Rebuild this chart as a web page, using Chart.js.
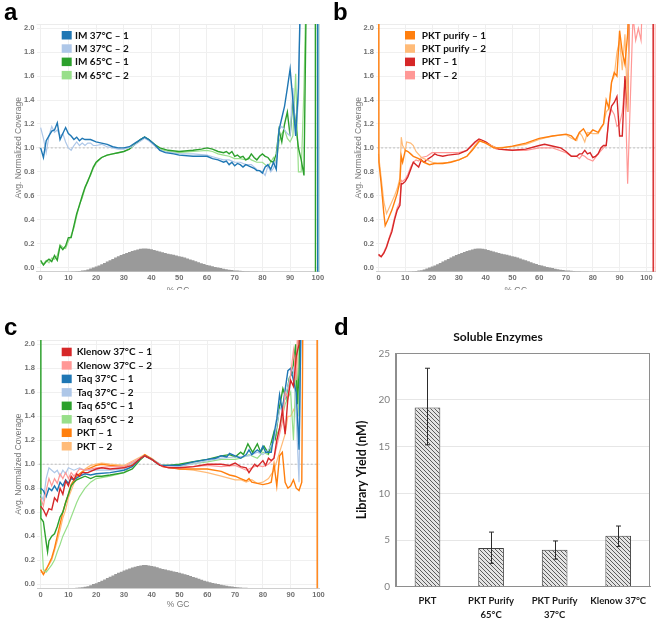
<!DOCTYPE html>
<html><head><meta charset="utf-8">
<script src="https://cdn.jsdelivr.net/npm/chart.js@4.4.1/dist/chart.umd.min.js"></script>
<style>
html,body{margin:0;padding:0;background:#fff;}
body{width:660px;height:619px;position:relative;overflow:hidden;}
.panel{position:absolute;overflow:hidden;}
.letter{position:absolute;font-family:'Liberation Sans',Arial,sans-serif;font-weight:bold;font-size:24px;line-height:24px;color:#000;}
</style></head><body>
<div class="panel" style="left:0;top:0;width:330px;height:290px"><canvas id="ca" width="330" height="300"></canvas></div>
<div class="panel" style="left:330px;top:0;width:330px;height:290px"><canvas id="cb" width="330" height="300"></canvas></div>
<div class="panel" style="left:0;top:300px;width:330px;height:319px"><canvas id="cc" width="330" height="319"></canvas></div>
<div class="panel" style="left:330px;top:300px;width:330px;height:319px"><canvas id="cd" width="330" height="319"></canvas></div>
<div class="letter" style="left:4px;top:0px">a</div>
<div class="letter" style="left:333px;top:0px">b</div>
<div class="letter" style="left:4px;top:315px">c</div>
<div class="letter" style="left:334px;top:315px">d</div>
<script>
// ---------- DATA ----------
const gcTicks = [0,10,20,30,40,50,60,70,80,90,100];
const coverageTicks = [0,0.2,0.4,0.6,0.8,1.0,1.2,1.4,1.6,1.8,2.0];
const gcHist = [[11,-0.034],[12,-0.033],[13,-0.031],[14,-0.029],[15,-0.026],[16,-0.022],[17,-0.017],[18,-0.009],[19,0.0],[20,0.008],[21,0.017],[22,0.027],[23,0.038],[24,0.05],[25,0.061],[26,0.072],[27,0.084],[28,0.095],[29,0.104],[30,0.113],[31,0.122],[32,0.13],[33,0.138],[34,0.145],[35,0.151],[36,0.156],[37,0.16],[38,0.159],[39,0.156],[40,0.152],[41,0.146],[42,0.14],[43,0.133],[44,0.127],[45,0.121],[46,0.116],[47,0.111],[48,0.106],[49,0.1],[50,0.095],[51,0.089],[52,0.083],[53,0.076],[54,0.068],[55,0.06],[56,0.052],[57,0.044],[58,0.036],[59,0.029],[60,0.022],[61,0.016],[62,0.01],[63,0.005],[64,0.0],[65,-0.005],[66,-0.01],[67,-0.014],[68,-0.018],[69,-0.021],[70,-0.024],[71,-0.026],[72,-0.028],[73,-0.03],[74,-0.031],[75,-0.032],[76,-0.033],[77,-0.034],[78,-0.034],[79,-0.035],[80,-0.035]];

// panel a
const IM37_1 = [[0,1.0],[1,0.92],[2,1.06],[3,1.1],[4,1.14],[5,1.15],[6,1.21],[7,1.07],[8,1.12],[9,1.17],[10,1.12],[11,1.1],[12,1.07],[13,1.09],[14,1.06],[15,1.08],[16,1.07],[18,1.07],[20,1.05],[22,1.04],[24,1.03],[26,1.01],[28,1.0],[30,1.0],[32,1.01],[34,1.04],[36,1.07],[37.5,1.09],[39,1.07],[41,1.03],[43,0.98],[45,0.96],[48,0.95],[50,0.94],[55,0.93],[60,0.93],[62,0.91],[64,0.9],[66,0.88],[67,0.89],[68,0.86],[69,0.88],[70,0.85],[71,0.87],[72,0.86],[73,0.84],[74,0.86],[75,0.85],[76,0.84],[77,0.83],[78,0.81],[79,0.81],[80,0.79],[81,0.84],[82,0.86],[83,0.82],[84,0.88],[85,0.82],[86,1.15],[87,1.25],[88,1.35],[89,1.5],[90,1.66],[91,1.4],[92,1.1],[93,1.5],[94,2.6],[99.9,2.6],[99.95,-0.2]];
const IM37_2 = [[0,1.17],[1,1.08],[2,0.96],[3,1.1],[4,1.18],[5,1.13],[6,1.15],[7,1.1],[8,1.12],[9,1.05],[10,1.0],[11,0.98],[12,1.02],[13,1.05],[14,1.02],[15,1.04],[16,1.02],[17,1.04],[18,1.04],[19,1.02],[20,1.02],[22,1.03],[24,1.01],[26,1.0],[28,0.99],[30,0.99],[33,1.01],[35,1.04],[37.5,1.08],[39,1.06],[41,1.02],[44,0.97],[47,0.96],[50,0.95],[55,0.95],[60,0.94],[63,0.92],[66,0.9],[68,0.9],[70,0.88],[72,0.88],[74,0.86],[76,0.86],[78,0.82],[80,0.8],[81,0.77],[82,0.85],[83,0.8],[84,0.83],[85,0.9],[86,1.15],[87,1.18],[88,1.15],[89,1.12],[90,1.1],[91,1.5],[92,1.1],[93,1.4],[94,2.6],[100.4,2.6],[100.45,-0.2]];
const IM65_1 = [[0,0.06],[1,0.02],[2,0.05],[3,0.07],[4,0.05],[5,0.1],[6,0.06],[7,0.18],[8,0.15],[9,0.18],[10,0.25],[11,0.25],[12,0.35],[13,0.45],[14,0.52],[15,0.6],[16,0.67],[17,0.72],[18,0.78],[19,0.84],[20,0.88],[21,0.9],[22,0.92],[24,0.94],[26,0.95],[28,0.96],[30,0.97],[32,0.99],[34,1.03],[36,1.07],[37.5,1.09],[39,1.07],[41,1.03],[43,1.0],[46,0.98],[50,0.97],[55,0.98],[58,0.99],[60,1.0],[62,0.99],[64,0.97],[66,0.96],[67,0.97],[68,0.95],[69,0.97],[70,0.93],[71,0.94],[72,0.92],[73,0.93],[74,0.9],[75,0.91],[76,0.95],[77,0.92],[78,0.9],[79,0.93],[80,0.95],[81,0.93],[82,0.92],[83,0.89],[84,0.88],[85,0.95],[86,1.15],[87,1.05],[88,1.2],[89,1.3],[90,1.1],[91,1.4],[92,1.2],[93,1.0],[94,0.9],[95,0.77],[96,2.6],[99.1,2.6],[99.15,-0.2]];
const IM65_2 = [[0,0.04],[1,0.03],[2,0.06],[3,0.04],[4,0.08],[5,0.07],[6,0.1],[7,0.19],[8,0.17],[9,0.16],[10,0.22],[11,0.27],[12,0.33],[13,0.43],[14,0.53],[15,0.58],[16,0.66],[17,0.73],[18,0.77],[19,0.83],[20,0.87],[21,0.9],[22,0.92],[24,0.94],[26,0.95],[28,0.96],[30,0.97],[32,0.99],[34,1.03],[36,1.07],[37.5,1.09],[39,1.07],[41,1.03],[43,0.99],[46,0.97],[50,0.96],[55,0.97],[60,0.98],[62,0.97],[64,0.95],[66,0.94],[68,0.93],[70,0.91],[72,0.91],[74,0.9],[75,0.92],[76,0.9],[78,0.88],[80,0.88],[81,0.86],[82,0.84],[83,0.88],[84,0.92],[85,0.88],[86,1.05],[87,1.12],[88,1.15],[89,1.08],[90,1.05],[91,1.1],[92,1.62],[93,0.8],[94,0.8],[95,1.5],[96,2.6],[100.45,2.6],[100.5,-0.2]];

// panel b
const PKTP_1 = [[0,5],[0.15,0.88],[1,0.7],[2,0.45],[2.5,0.35],[3.5,0.4],[5,0.48],[6,0.55],[7,0.62],[8,0.72],[8.5,0.93],[9,0.88],[10,0.98],[11,0.97],[12,0.95],[13,0.93],[15,0.91],[17,0.88],[19,0.86],[21,0.87],[24,0.87],[27,0.88],[30,0.9],[33,0.93],[35,0.98],[37.7,1.06],[40,1.04],[43,1.0],[46,1.0],[50,1.015],[55,1.04],[60,1.08],[65,1.1],[70,1.115],[72,1.1],[73.5,1.065],[75,1.13],[76.5,1.16],[78,1.1],[80,1.15],[82,1.13],[83,1.17],[84,1.2],[85,1.4],[86,1.33],[87,1.55],[88,1.63],[89,1.6],[90,1.98],[91,1.8],[92,1.7],[93,1.95],[94,2.6]];
const PKTP_2 = [[0,0.95],[1,0.75],[2,0.55],[3,0.45],[4,0.5],[5,0.55],[6,0.6],[7,0.66],[8,0.75],[8.5,1.09],[9,1.02],[10,0.98],[10.5,1.05],[12,1.04],[13,1.02],[14,0.97],[16,0.92],[18,0.9],[20,0.88],[22,0.87],[26,0.88],[30,0.9],[33,0.93],[36,1.02],[38,1.06],[41,1.03],[44,1.0],[50,1.01],[55,1.03],[60,1.07],[65,1.1],[70,1.11],[72,1.08],[74,1.06],[75,1.13],[76,1.1],[77,1.05],[78,1.13],[80,1.12],[82,1.12],[84,1.2],[85,1.3],[86,1.33],[87,1.55],[88,1.6],[89,1.8],[90,1.9],[91,1.65],[92,1.95],[93,1.3],[94,2.6]];
const PKT_1 = [[0,0.11],[1,0.09],[2,0.12],[3,0.17],[4,0.24],[5,0.3],[6,0.4],[7,0.48],[8,0.52],[8.5,0.7],[9,0.7],[10,0.72],[11,0.76],[12,0.82],[13,0.88],[14,0.86],[15,0.84],[16,0.9],[17,0.88],[18,0.9],[20,0.93],[21,0.95],[22,0.94],[24,0.93],[26,0.94],[30,0.95],[33,0.98],[36,1.05],[37.5,1.075],[40,1.05],[42,1.02],[45,0.99],[50,0.98],[55,0.99],[60,1.02],[62,1.03],[64,1.02],[66,1.01],[68,1.0],[70,0.97],[72,0.93],[74,0.93],[75,0.95],[76,0.95],[77,0.98],[78,0.95],[79,0.96],[80,0.92],[81,0.93],[82,0.95],[83,1.0],[84,1.02],[85,1.02],[86,1.25],[87,1.35],[88,1.38],[89,1.43],[90,1.1],[91,1.1],[92,1.6],[93,1.3],[94,2.6],[102.5,2.6],[102.55,-0.2]];
const PKT_2 = [[0,0.1],[1,0.09],[2,0.13],[3,0.18],[4,0.25],[5,0.32],[6,0.42],[7,0.5],[8,0.55],[8.5,0.73],[9,0.72],[10,0.74],[11,0.78],[12,0.84],[13,0.88],[14,0.9],[15,0.89],[16,0.92],[18,0.93],[20,0.96],[22,0.96],[25,0.96],[30,0.96],[33,0.98],[36,1.04],[38,1.07],[40,1.05],[44,0.99],[50,0.98],[55,0.98],[60,1.0],[65,1.0],[70,0.96],[72,0.93],[74,0.93],[75,0.91],[76,0.94],[77,0.93],[78,0.91],[80,0.89],[82,0.95],[84,1.0],[85,1.02],[86,1.25],[87,1.32],[88,1.28],[89,1.18],[90,1.2],[91,1.3],[92,1.55],[93,0.7],[94,1.4],[95,2.1],[96,1.9],[97,2.0],[98,1.9],[99,2.6],[103.3,2.6],[103.35,-0.2]];

// panel c
const KL_1 = [[0,0.65],[1,0.62],[2,0.57],[3,0.63],[4,0.62],[5,0.72],[6,0.69],[7,0.8],[8,0.75],[9,0.86],[10,0.82],[11,0.9],[12,0.87],[13,0.92],[14,0.9],[15,0.93],[17,0.93],[20,0.96],[22,0.97],[25,0.96],[30,0.97],[33,0.99],[36,1.05],[37.5,1.07],[40,1.04],[43,0.99],[46,0.97],[50,0.97],[55,0.98],[60,1.0],[65,1.0],[68,0.99],[70,1.01],[72,0.98],[74,0.97],[75,0.93],[77,1.0],[78,0.98],[80,1.03],[81,0.99],[82,1.05],[83,1.03],[84,1.05],[85,1.2],[86,1.3],[87,1.45],[88,1.25],[89,1.55],[90,1.7],[91,1.65],[92,1.9],[93,2.0],[94,2.6]];
const KL_2 = [[0,0.72],[1,0.65],[2,0.78],[3,0.88],[4,0.82],[5,0.88],[6,0.84],[7,0.92],[8,0.88],[9,0.93],[10,0.88],[11,0.93],[12,0.9],[14,0.96],[16,0.95],[20,0.97],[25,0.98],[30,0.98],[35,1.04],[37.5,1.07],[40,1.04],[44,0.98],[50,0.97],[60,0.99],[65,0.98],[70,0.99],[72,0.97],[74,0.95],[76,0.97],[78,0.99],[80,0.98],[82,1.0],[84,1.05],[85,1.15],[87,1.35],[88,1.6],[89,1.55],[90,1.75],[91,1.95],[92,1.7],[93,2.6]];
const TQ37_1 = [[0,0.8],[1,0.78],[2,0.73],[3,0.8],[4,0.78],[5,0.82],[6,0.78],[7,0.85],[8,0.82],[9,0.87],[10,0.84],[11,0.88],[12,0.87],[14,0.9],[16,0.92],[18,0.91],[20,0.92],[25,0.93],[30,0.95],[33,0.98],[36,1.05],[37.5,1.07],[40,1.04],[43,0.99],[46,0.99],[50,0.99],[55,1.02],[60,1.04],[63,1.05],[65,1.07],[67,1.06],[68,1.09],[70,1.07],[72,1.05],[74,1.08],[75,1.12],[76,1.08],[78,1.12],[79,1.1],[80,1.15],[81,1.1],[83,1.1],[84,1.25],[85,1.38],[86,1.58],[87,1.45],[88,1.62],[89,1.78],[90,1.8],[91,1.7],[92,1.6],[93,1.12],[94,2.6]];
const TQ37_2 = [[0,0.75],[1,0.7],[2,0.88],[3,0.97],[4,0.95],[5,0.93],[6,0.95],[7,0.9],[8,0.95],[9,0.92],[10,0.97],[12,0.95],[14,0.97],[16,0.95],[20,0.95],[25,0.95],[30,0.96],[35,1.04],[37.5,1.07],[40,1.04],[44,0.99],[50,0.98],[60,1.03],[65,1.05],[70,1.06],[75,1.07],[78,1.1],[80,1.08],[82,1.12],[84,1.2],[86,1.45],[88,1.55],[90,1.75],[91,1.8],[92,1.4],[93,0.85],[94,2.6]];
const TQ65_1 = [[0,6],[0.1,0.55],[1,0.52],[2,0.35],[2.5,0.27],[3,0.36],[4,0.4],[5,0.42],[6,0.48],[7,0.56],[8,0.6],[9,0.68],[10,0.75],[11,0.82],[12,0.85],[13,0.87],[14,0.88],[16,0.9],[18,0.88],[20,0.9],[22,0.9],[25,0.91],[30,0.93],[33,0.96],[36,1.04],[37.5,1.07],[40,1.04],[43,0.99],[46,0.99],[50,1.0],[55,1.02],[60,1.04],[65,1.07],[68,1.08],[70,1.06],[72,1.1],[73,1.08],[74.6,1.17],[76.3,1.1],[78,1.17],[79.2,1.1],[80.4,1.15],[82,1.09],[84,1.27],[84.5,1.22],[86,1.48],[87.2,1.63],[88.3,1.55],[89.5,1.72],[90.6,1.76],[91.8,2.0],[92.4,1.5],[93,1.75],[93.5,2.6]];
const TQ65_2 = [[0,0.55],[1,0.12],[2,0.1],[3,0.13],[4,0.16],[5,0.2],[6,0.27],[7,0.33],[8,0.4],[9,0.45],[10,0.5],[11,0.56],[12,0.62],[13,0.68],[14,0.73],[16,0.8],[18,0.85],[20,0.88],[25,0.9],[30,0.93],[35,1.03],[37.5,1.07],[40,1.04],[44,0.99],[50,0.99],[60,1.02],[65,1.04],[70,1.04],[72,1.05],[75,1.08],[78,1.05],[80,1.1],[82,1.08],[84,1.2],[86,1.3],[88,1.5],[90,1.6],[91,1.2],[92,1.85],[93,1.4],[94,2.6]];
const PKTc_1 = [[0,0.12],[1,0.08],[2,0.12],[3,0.17],[4,0.22],[5,0.3],[6,0.4],[7,0.5],[8,0.6],[9,0.68],[10,0.75],[11,0.83],[12,0.87],[13,0.9],[14,0.92],[16,0.95],[18,0.97],[20,0.99],[22,1.0],[25,0.99],[30,0.98],[33,1.0],[36,1.05],[37.5,1.08],[40,1.04],[44,0.98],[50,0.96],[55,0.96],[60,0.96],[65,0.94],[68,0.91],[70,0.9],[72,0.88],[74,0.86],[75,0.88],[76,0.85],[78,0.84],[80,0.83],[82,0.84],[83,0.85],[84,1.0],[85,0.82],[86,1.07],[87,1.1],[88,0.85],[89,0.8],[90,0.82],[91,0.87],[92,0.8],[93,0.78],[94,0.85],[94.5,2.6],[99.5,2.6],[99.55,-0.2]];
const PKTc_2 = [[0,0.1],[1,0.1],[2,0.13],[3,0.16],[4,0.2],[5,0.28],[6,0.36],[7,0.45],[8,0.55],[9,0.62],[10,0.72],[11,0.78],[12,0.84],[13,0.88],[14,0.92],[16,0.96],[18,0.99],[20,1.0],[22,1.01],[25,1.0],[30,0.99],[35,1.05],[37.5,1.08],[40,1.05],[44,0.98],[50,0.96],[55,0.95],[60,0.93],[65,0.9],[70,0.87],[72,0.87],[74,0.85],[76,0.87],[78,0.84],[80,0.85],[82,0.88],[84,0.95],[86,1.1],[88,1.25],[89,1.4],[90,1.4],[92,1.5],[93,2.6]];

// panel d
const yieldLabels = [['PKT'], ['PKT Purify','65°C'], ['PKT Purify','37°C'], ['Klenow 37°C']];
const yieldValues = [19.2, 4.15, 3.95, 5.45];
const yieldLow = [15.2, 2.5, 2.95, 4.3];
const yieldHigh = [23.4, 5.85, 4.9, 6.5];
const yieldTicks = [0,5,10,15,20,25];

// ---------- HELPERS ----------
const C = {blue:'#1f77b4', lblue:'#aec7e8', green:'#2ca02c', lgreen:'#98df8a', red:'#d62728', pink:'#ff9896', orange:'#ff7f0e', lorange:'#ffbb78'};
const xy = arr => arr.map(p => ({x:p[0], y:p[1]}));
const tickFont = {family:'Liberation Sans', size:7.5, weight:'bold'};
const axisTitleFont = {family:'Liberation Sans', size:8.5};

const inlineLegend = {
  id:'inlineLegend',
  afterDraw(chart, args, o){
    const {ctx, chartArea} = chart;
    const items = chart.data.datasets.filter(d => d.inLegend);
    ctx.save();
    ctx.font = 'bold 10px Lato';
    ctx.textBaseline = 'middle';
    ctx.textAlign = 'left';
    items.forEach((d,i) => {
      const cy = chartArea.top + o.dy + i*o.step;
      const bx = chartArea.left + o.dx;
      ctx.fillStyle = d.borderColor;
      ctx.fillRect(bx, cy-4, 10, 8.5);
      ctx.fillStyle = '#111';
      ctx.fillText(d.label, bx + o.tx, cy+0.5);
    });
    ctx.restore();
  }
};
const topLine = {
  id:'topLine',
  beforeDatasetsDraw(chart){
    const {ctx, chartArea} = chart;
    ctx.save(); ctx.strokeStyle='#ececec'; ctx.lineWidth=1;
    ctx.beginPath(); ctx.moveTo(chartArea.left, chartArea.top+0.5); ctx.lineTo(chartArea.right, chartArea.top+0.5); ctx.stroke();
    ctx.restore();
  }
};

function coverageChart(id, series, cfg){
  const datasets = series.map(s => ({
    label:s.label, data:xy(s.data), borderColor:s.color, backgroundColor:s.color,
    borderWidth:s.light?1.2:1.4, pointRadius:0, tension:0, fill:false, inLegend:true
  }));
  datasets.push({label:'ref', data:[{x:-5,y:1},{x:110,y:1}], borderColor:'#bdbdbd', borderDash:[2,2], borderWidth:1, pointRadius:0, fill:false});
  datasets.push({label:'GC distribution', data:xy(gcHist), stepped:'middle', fill:{value:-0.035}, backgroundColor:'#9a9a9a', borderColor:'rgba(0,0,0,0)', borderWidth:0, pointRadius:0});
  return new Chart(document.getElementById(id), {
    type:'line',
    data:{datasets},
    plugins:[inlineLegend, topLine],
    options:{
      responsive:false, animation:false, devicePixelRatio:1,
      layout:{padding:{left:0, top:cfg.top, right:cfg.right, bottom:0}},
      plugins:{legend:{display:false}, tooltip:{enabled:false}, inlineLegend:cfg.legend},
      scales:{
        x:{type:'linear', min:cfg.xmin, max:cfg.xmax,
           afterBuildTicks:s => { s.ticks = gcTicks.map(v => ({value:v})); },
           ticks:{font:tickFont, color:'#707070', padding:2, maxRotation:0, autoSkip:false},
           grid:{color:'#efefef', drawTicks:false},
           border:{color:'#cfcfcf'},
           title:{display:true, text:'% GC', font:axisTitleFont, color:'#777', padding:{top:0, bottom:cfg.xtPad}},
           afterFit:s => { s.height = cfg.xh; }},
        y:{type:'linear', min:-0.035, max:2.036,
           afterBuildTicks:s => { s.ticks = coverageTicks.map(v => ({value:v})); },
           ticks:{font:tickFont, color:'#707070', padding:2, callback:v => Number(v).toFixed(1)},
           grid:{color:'#f0f0f0', drawTicks:false},
           border:{display:false},
           title:{display:true, text:'Avg. Normalized Coverage', font:axisTitleFont, color:'#777', padding:{top:cfg.ytPad, bottom:0}},
           afterFit:s => { s.width = cfg.yw; }}
      }
    }
  });
}

coverageChart('ca', [
  {label:'IM 37°C – 1', data:IM37_1, color:C.blue},
  {label:'IM 37°C – 2', data:IM37_2, color:C.lblue, light:true},
  {label:'IM 65°C – 1', data:IM65_1, color:C.green},
  {label:'IM 65°C – 2', data:IM65_2, color:C.lgreen, light:true}
], {top:24, right:10.5, xmin:-1.5, xmax:100.6, xh:28.3, xtPad:4.4, yw:36.5, ytPad:13.2,
    legend:{dx:25.2, dy:11, step:13.3, tx:13.3}});

coverageChart('cb', [
  {label:'PKT purify – 1', data:PKTP_1, color:C.orange},
  {label:'PKT purify – 2', data:PKTP_2, color:C.lorange, light:true},
  {label:'PKT – 1', data:PKT_1, color:C.red},
  {label:'PKT – 2', data:PKT_2, color:C.pink, light:true}
], {top:24, right:4.5, xmin:-0.93, xmax:103.4, xh:28.3, xtPad:4.4, yw:46, ytPad:23.2,
    legend:{dx:29, dy:11, step:13.3, tx:16.7}});

coverageChart('cc', [
  {label:'Klenow 37°C – 1', data:KL_1, color:C.red},
  {label:'Klenow 37°C – 2', data:KL_2, color:C.pink, light:true},
  {label:'Taq 37°C – 1', data:TQ37_1, color:C.blue},
  {label:'Taq 37°C – 2', data:TQ37_2, color:C.lblue, light:true},
  {label:'Taq 65°C – 1', data:TQ65_1, color:C.green},
  {label:'Taq 65°C – 2', data:TQ65_2, color:C.lgreen, light:true},
  {label:'PKT – 1', data:PKTc_1, color:C.orange},
  {label:'PKT – 2', data:PKTc_2, color:C.lorange, light:true}
], {top:40, right:10.7, xmin:-1.3, xmax:100.3, xh:30.7, xtPad:9.6, yw:37, ytPad:13.2,
    legend:{dx:24.7, dy:11.7, step:13.47, tx:15}});

// ---------- PANEL D ----------
function hatchPattern(){
  const c = document.createElement('canvas'); c.width = 4; c.height = 4;
  const g = c.getContext('2d');
  g.fillStyle = '#e4e4e4'; g.fillRect(0,0,4,4);
  g.strokeStyle = '#5c5c5c'; g.lineWidth = 1;
  g.beginPath();
  g.moveTo(0,0); g.lineTo(4,4);
  g.moveTo(-1,3); g.lineTo(1,5);
  g.moveTo(3,-1); g.lineTo(5,1);
  g.stroke();
  return g.createPattern(c, 'repeat');
}
const errorBars = {
  id:'errorBars',
  afterDatasetsDraw(chart){
    const {ctx} = chart;
    const meta = chart.getDatasetMeta(0);
    const ys = chart.scales.y;
    ctx.save(); ctx.strokeStyle = '#2b2b2b'; ctx.lineWidth = 1;
    meta.data.forEach((bar, i) => {
      const x = Math.round(bar.x) + 0.5;
      const yt = ys.getPixelForValue(yieldHigh[i]);
      const yb = ys.getPixelForValue(yieldLow[i]);
      ctx.beginPath();
      ctx.moveTo(x, yt); ctx.lineTo(x, yb);
      ctx.moveTo(x-2.5, yt); ctx.lineTo(x+2.5, yt);
      ctx.moveTo(x-2.5, yb); ctx.lineTo(x+2.5, yb);
      ctx.stroke();
    });
    ctx.restore();
  }
};
const frameBox = {
  id:'frameBox',
  afterDraw(chart){
    const {ctx, chartArea:a} = chart;
    ctx.save(); ctx.strokeStyle = '#8e8e8e'; ctx.lineWidth = 1;
    ctx.strokeRect(Math.round(a.left)+0.5, Math.round(a.top)+0.5, Math.round(a.right-a.left)-1, Math.round(a.bottom-a.top));
    ctx.restore();
  }
};
new Chart(document.getElementById('cd'), {
  type:'bar',
  data:{labels:yieldLabels, datasets:[{label:'Library Yield', data:yieldValues, backgroundColor:hatchPattern(), borderColor:'#404040', borderWidth:1, barPercentage:0.404, categoryPercentage:1}]},
  plugins:[errorBars, frameBox],
  options:{
    responsive:false, animation:false, devicePixelRatio:1,
    layout:{padding:{left:16, top:0, right:10, bottom:0}},
    plugins:{
      legend:{display:false}, tooltip:{enabled:false},
      title:{display:true, text:'Soluble Enzymes', color:'#111', font:{family:'Lato', size:12, weight:'bold'}, padding:{top:29.8, bottom:9.1}}
    },
    scales:{
      x:{ticks:{font:{family:'Lato', size:9.5, weight:'bold', lineHeight:1.4}, color:'#1a1a1a', padding:0, maxRotation:0, autoSkip:false},
         grid:{display:false}, border:{color:'#8e8e8e'},
         afterFit:s => { s.height = 32.3; }},
      y:{min:0, max:25,
         afterBuildTicks:s => { s.ticks = yieldTicks.map(v => ({value:v})); },
         ticks:{font:{family:'Lato', size:10}, color:'#7f7f7f', padding:5.7},
         grid:{color:'#e6e6e6', drawTicks:false}, border:{color:'#8e8e8e'},
         title:{display:true, text:'Library Yield (nM)', color:'#111', font:{family:'Lato', size:12.5, weight:'bold'}, padding:{top:8.2, bottom:0}},
         afterFit:s => { s.width = 49.7; }}
    }
  }
});
</script>
</body></html>
